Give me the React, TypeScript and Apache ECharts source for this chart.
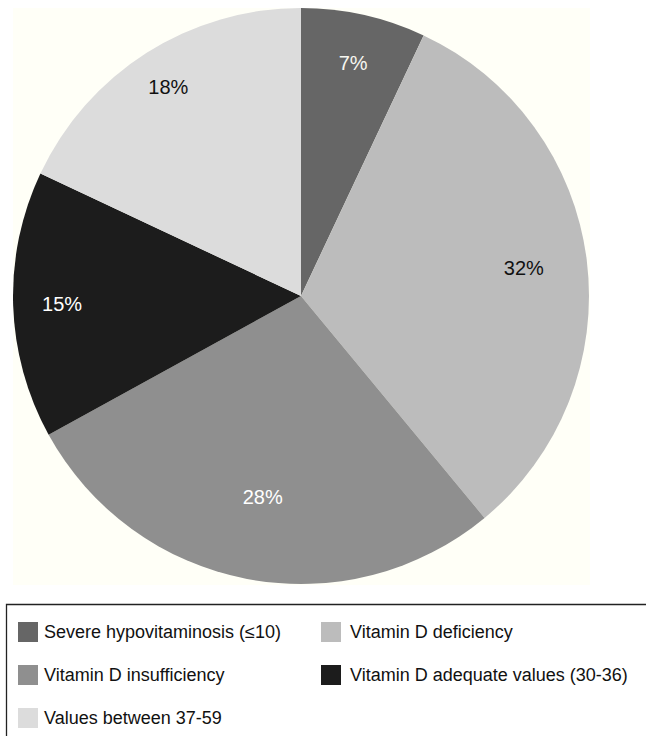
import React, { useEffect, useRef } from "react";
import * as echarts from "echarts";

const categories = [
  "Severe hypovitaminosis (≤10)",
  "Vitamin D deficiency",
  "Vitamin D insufficiency",
  "Vitamin D adequate values (30-36)",
  "Values between 37-59",
];
const values = [7, 32, 28, 15, 18];
const sliceColors = ["#666666", "#bcbcbc", "#8f8f8f", "#1c1c1c", "#dcdcdc"];
const labelColors = ["#f6f6f0", "#111111", "#ffffff", "#ffffff", "#111111"];
const labelRadiusFactor = [0.83, 0.78, 0.71, 0.83, 0.86];
const legendCol1 = [categories[0], categories[2], categories[4]];
const legendCol2 = [categories[1], categories[3]];

const CX = 301;
const CY = 296;
const R = 288;
const FONT = "'Liberation Sans', Arial, Helvetica, sans-serif";

export default function App() {
  const ref = useRef<HTMLDivElement>(null);
  useEffect(() => {
    if (!ref.current) return;
    const chart = echarts.init(ref.current, null, { renderer: "svg" });
    const legendBase = {
      orient: "vertical" as const,
      top: 622,
      itemWidth: 20,
      itemHeight: 20,
      itemGap: 23,
      icon: "rect",
      padding: 0,
      selectedMode: false,
      itemStyle: { borderWidth: 0 },
    };
    chart.setOption({
      animation: false,
      backgroundColor: "#ffffff",
      graphic: [
        {
          type: "rect",
          z: 0,
          shape: { x: 13, y: 8, width: 577, height: 577 },
          style: { fill: "#fffff7" },
          silent: true,
        },
        {
          type: "rect",
          z: 0,
          shape: { x: 6.5, y: 604.5, width: 700, height: 200 },
          style: { fill: "none", stroke: "#222222", lineWidth: 1.3 },
          silent: true,
        },
      ],
      legend: [
        {
          ...legendBase,
          left: 18,
          data: legendCol1,
          textStyle: { fontSize: 18, fontFamily: FONT, color: "#111111", padding: [0, 0, 0, 1] },
        },
        {
          ...legendBase,
          left: 321,
          data: legendCol2,
          textStyle: { fontSize: 18, fontFamily: FONT, color: "#111111", padding: [0, 0, 0, 4] },
        },
      ],
      series: [
        {
          type: "pie",
          center: [CX, CY],
          radius: [0, R],
          startAngle: 90,
          clockwise: true,
          emphasis: { disabled: true },
          itemStyle: { borderWidth: 0 },
          label: {
            show: true,
            position: "inside",
            formatter: "{c}%",
            fontSize: 20,
            fontWeight: "normal",
            fontFamily: FONT,
            textBorderWidth: 0,
            textBorderColor: "transparent",
          },
          labelLine: { show: false },
          labelLayout: (params: any) => {
            const i = params.dataIndex;
            const r = params.labelRect;
            const lx = r.x + r.width / 2;
            const ly = r.y + r.height / 2;
            const dx = lx - CX;
            const dy = ly - CY;
            const d = Math.hypot(dx, dy) || 1;
            const f = (labelRadiusFactor[i] * R) / d;
            return { x: CX + dx * f, y: CY + dy * f };
          },
          data: categories.map((name, i) => ({
            name,
            value: values[i],
            itemStyle: { color: sliceColors[i] },
            label: { color: labelColors[i] },
          })),
        },
      ],
    });
    return () => chart.dispose();
  }, []);
  return (
    <div
      ref={ref}
      style={{ position: "fixed", left: 0, top: 0, width: 646, height: 736 }}
    />
  );
}
